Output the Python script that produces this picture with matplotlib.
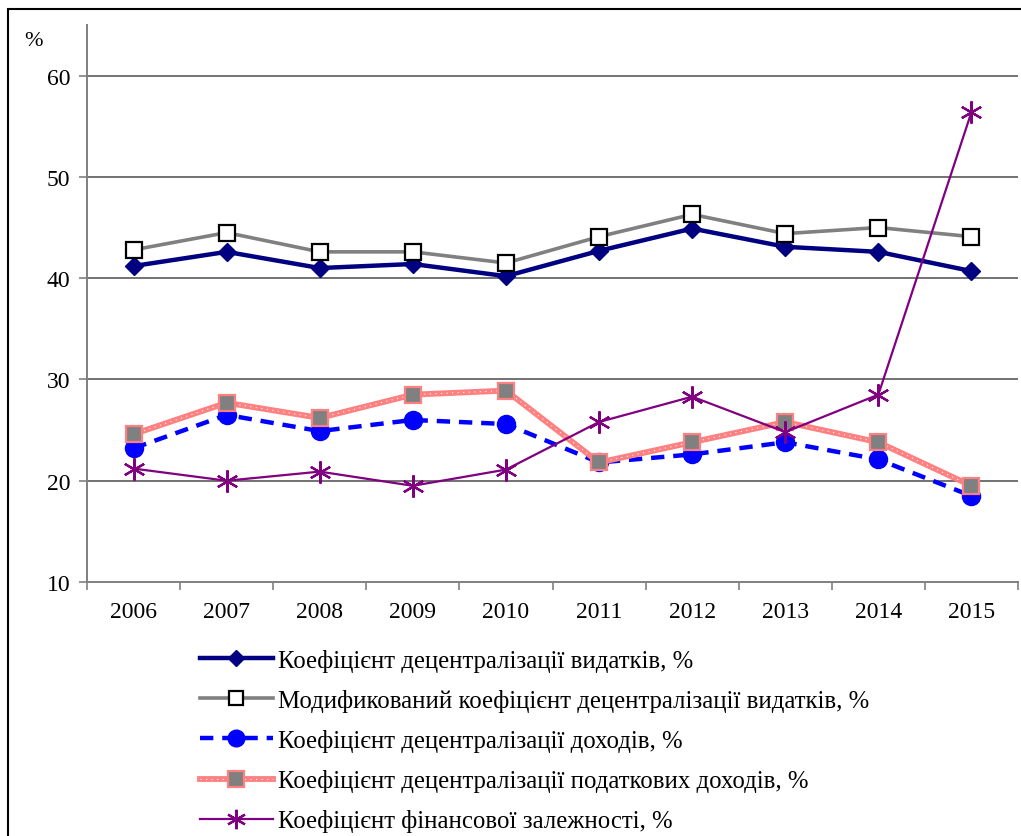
import matplotlib
matplotlib.use("Agg")
import matplotlib.pyplot as plt
from matplotlib.lines import Line2D
from matplotlib.patches import Rectangle
from matplotlib.legend_handler import HandlerTuple
import numpy as np

years = ["2006", "2007", "2008", "2009", "2010", "2011", "2012", "2013", "2014", "2015"]

spending_decentr = [41.2, 42.6, 41.0, 41.4, 40.2, 42.7, 44.9, 43.1, 42.6, 40.7]
spending_decentr_mod = [42.8, 44.5, 42.6, 42.6, 41.5, 44.1, 46.3, 44.4, 45.0, 44.1]
revenue_decentr = [23.2, 26.5, 24.9, 26.0, 25.6, 21.8, 22.6, 23.8, 22.1, 18.5]
tax_revenue_decentr = [24.6, 27.7, 26.2, 28.5, 28.9, 21.8, 23.8, 25.8, 23.8, 19.5]
fin_dependence = [21.2, 20.0, 20.9, 19.5, 21.1, 25.8, 28.3, 24.8, 28.5, 56.4]

labels = [
    "Коефіцієнт децентралізації видатків, %",
    "Модификований коефіцієнт децентралізації видатків, %",
    "Коефіцієнт децентралізації доходів, %",
    "Коефіцієнт децентралізації податкових доходів, %",
    "Коефіцієнт фінансової залежності, %",
]

plt.rcParams["font.family"] = ["Liberation Serif", "DejaVu Serif"]
FS = 17
LFS = 17.8

W, H = 1021, 837
fig = plt.figure(figsize=(W / 100, H / 100), dpi=100)
ax = fig.add_axes([87 / W, 1 - 583 / H, (1018 - 87) / W, (583 - 26) / H])

x = np.arange(len(years))

navy = "#000080"
grey = "#808080"
blue = "#0000FF"
pink = "#FF8080"
purple = "#800080"
star = (6, 2, 0)

ax.plot(x, spending_decentr, color=navy, lw=3.2, marker="D", ms=9,
        mfc=navy, mec=navy, zorder=3)
ax.plot(x, spending_decentr_mod, color=grey, lw=2.6, marker="s", ms=11,
        mfc="white", mec="black", mew=1.6, zorder=4)
ax.plot(x, revenue_decentr, color=blue, lw=3.2, ls=(0, (3, 2)), marker="o", ms=13,
        mfc=blue, mec=blue, zorder=5)
ax.plot(x, tax_revenue_decentr, color=pink, lw=4.2, solid_capstyle="butt", zorder=6)
ax.plot(x, tax_revenue_decentr, color="white", lw=0.8, ls=(0, (1, 4)), zorder=6.5)
ax.plot(x, tax_revenue_decentr, ls="none", marker="s", ms=12,
        mfc=grey, mec=pink, mew=1.6, zorder=7)
ax.plot(x, fin_dependence, color=purple, lw=1.6, marker=star, ms=16,
        mec=purple, mew=1.6, zorder=8)

ax.set_xlim(-0.5, len(years) - 0.5)
ax.set_ylim(10, 65)
ax.set_yticks([10, 20, 30, 40, 50, 60])
ax.set_xticks(x)
ax.set_xticklabels(years, fontsize=FS)
ax.set_xticks(np.arange(-0.5, len(years)), minor=True)
ax.tick_params(axis="x", which="major", length=0, pad=14)
ax.tick_params(axis="x", which="minor", length=6, width=1.2, color=grey, direction="out")
ax.tick_params(axis="y", length=6, width=1.2, color=grey, direction="out",
               labelsize=FS, pad=6)

for v in [20, 30, 40, 50, 60]:
    ax.axhline(v, color="#5a5a5a", lw=1.2, zorder=1)

for s in ["top", "right"]:
    ax.spines[s].set_visible(False)
for s in ["left", "bottom"]:
    ax.spines[s].set_color(grey)
    ax.spines[s].set_linewidth(1.4)

fig.text(24 / W, 1 - 42 / H, "%", fontsize=FS - 1, ha="left", va="center")

# Outer frame around the whole chart
fig.patches.append(Rectangle((8 / W, -0.1), 1.2, 1 - 10 / H + 0.1,
                             transform=fig.transFigure, fill=False,
                             ec="black", lw=1.5))

h1 = Line2D([], [], color=navy, lw=3.2, marker="D", ms=8, mfc=navy, mec=navy)
h2 = Line2D([], [], color=grey, lw=2.6, marker="s", ms=10, mfc="white", mec="black", mew=1.6)
h3 = Line2D([], [], color=blue, lw=3.2, ls=(0, (3, 2)), marker="o", ms=12, mfc=blue, mec=blue)
h4a = Line2D([], [], color=pink, lw=4.2)
h4b = Line2D([], [], color="white", lw=0.8, ls=(0, (1, 4)))
h4c = Line2D([], [], ls="none", marker="s", ms=11, mfc=grey, mec=pink, mew=1.6)
h5 = Line2D([], [], color=purple, lw=1.6, marker=star, ms=14, mec=purple, mew=1.6)

fig.legend([h1, h2, h3, (h4a, h4b, h4c), h5], labels,
           handler_map={tuple: HandlerTuple(ndivide=1, pad=0)},
           loc="upper left", bbox_to_anchor=(200 / W, 1 - 650 / H),
           frameon=False, fontsize=LFS, handlelength=2.95, handletextpad=0.22,
           labelspacing=0.69, borderaxespad=0, borderpad=0)

fig.savefig("out.png", dpi=100, facecolor="white")
